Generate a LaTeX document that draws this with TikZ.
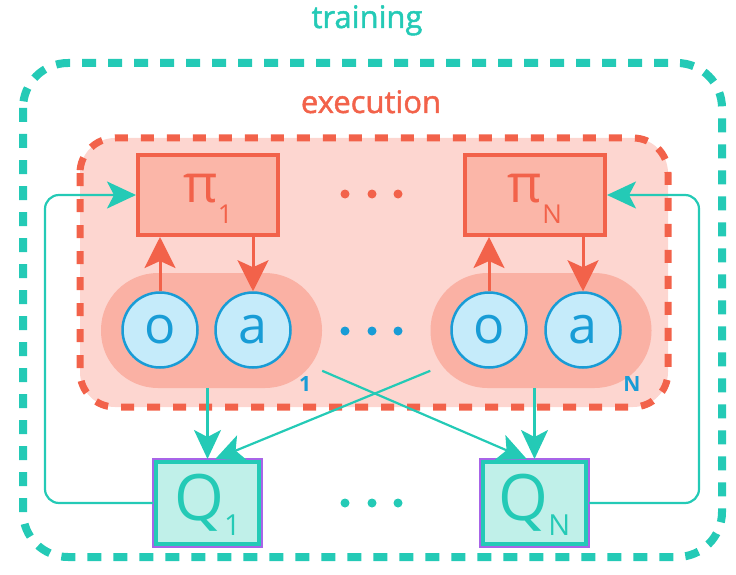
\documentclass[tikz,border=0pt]{standalone}
\usepackage{fontspec}
\setmainfont{Open Sans}
\newfontfamily\headfont[FakeBold=1.5]{Open Sans}
\usetikzlibrary{arrows.meta}

\definecolor{trainteal}{RGB}{36,202,182}
\definecolor{critfill}{RGB}{192,240,233}
\definecolor{critrim}{RGB}{168,100,232}
\definecolor{execred}{RGB}{242,98,74}
\definecolor{execfill}{RGB}{253,214,208}
\definecolor{pifill}{RGB}{251,182,168}
\definecolor{pillfill}{RGB}{250,177,164}
\definecolor{obsfill}{RGB}{197,235,250}
\definecolor{obsblue}{RGB}{24,156,214}

\newcommand{\pilabel}[1]{\smash{\raisebox{-7pt}{π\raisebox{-21pt}{\fontsize{26}{26}\selectfont #1}}}}
\newcommand{\qlabel}[1]{\smash{\raisebox{-17pt}{Q\raisebox{-15pt}{\fontsize{29}{29}\selectfont #1}}}}

\tikzset{
	trainbox/.style={draw=trainteal, line width=8pt, dash pattern=on 14pt off 12pt, rounded corners=45pt},
	execbox/.style={draw=execred, fill=execfill, line width=7pt, dash pattern=on 13pt off 13pt, rounded corners=35pt},
	pibox/.style={draw=execred, fill=pifill, line width=4pt, minimum width=140pt, minimum height=80pt, inner sep=0pt, text=execred, font=\fontsize{53}{53}\selectfont},
	pill/.style={fill=pillfill, minimum width=221pt, minimum height=115pt, rounded corners=57pt, inner sep=0pt},
	obs/.style={circle, draw=obsblue, fill=obsfill, line width=2.5pt, minimum size=75pt, inner sep=0pt, text=obsblue, font=\fontsize{52}{52}\selectfont},
	critic/.style={draw=trainteal, fill=critfill, line width=5pt, minimum width=104pt, minimum height=83pt, inner sep=0pt, text=trainteal, font=\fontsize{64}{64}\selectfont},
	criticrim/.style={draw=critrim, line width=1.5pt},
	headtext/.style={anchor=base, font=\headfont\fontsize{31}{31}\selectfont},
	agentlabel/.style={text=obsblue, font=\bfseries\fontsize{21}{21}\selectfont, inner sep=0pt},
	polarrow/.style={draw=execred, line width=3pt, -{Stealth[length=31pt, width=31pt, inset=7pt]}},
	critarrow/.style={draw=trainteal, line width=2.2pt, -{Stealth[length=29pt, width=27pt, inset=7pt]}},
}

\begin{document}
\begin{tikzpicture}[x=1pt, y=-1pt]
		%%%%% START %%%%%
		\useasboundingbox (0,0) rectangle (736,575);
		
		\draw[trainbox] (23,63) rectangle (722,557);
		\node[headtext, text=trainteal] (training) at (367,28) {training};
		
		\draw[execbox] (80,138) rectangle (668,407);
		\node[headtext, text=execred] (execution) at (371,113) {execution};
		
		\node[pibox] (pi1) at (208,195) {\pilabel{1}};
		\node[pibox] (piN) at (535,195) {\pilabel{N}};
		
		\node[pill] (pill1) at (211.5,330.5) {};
		\node[pill] (pillN) at (541,330.5) {};
		\node[obs] (o1) at (160,330) {o};
		\node[obs] (a1) at (253,330) {a};
		\node[obs] (oN) at (489,330) {o};
		\node[obs] (aN) at (583,330) {a};
		\node[agentlabel] (lab1) at (305,384) {1};
		\node[agentlabel] (labN) at (632,384) {N};
		
		\node[critic] (q1) at (207.5,503) {\qlabel{1}};
		\node[critic] (qN) at (534.5,503) {\qlabel{N}};
		\foreach \q in {q1,qN}
			\draw[criticrim] (\q.north west) rectangle (\q.south east);
		
		\foreach \x in {345,372,398} {
			\fill[execred] (\x,194) circle (4.5);
			\fill[obsblue] (\x,331) circle (4.5);
			\fill[trainteal] (\x,503) circle (4.5);
		}
		
		\draw[polarrow] (o1.north) -- (o1.north |- pi1.south);
		\draw[polarrow] (a1.north |- pi1.south) -- (a1.north);
		\draw[polarrow] (oN.north) -- (oN.north |- piN.south);
		\draw[polarrow] (aN.north |- piN.south) -- (aN.north);
		
		\draw[critarrow] (q1.north |- pill1.south) -- (q1.north);
		\draw[critarrow] (qN.north |- pillN.south) -- (qN.north);
		\draw[critarrow] (pill1.-20) -- (qN.100);
		\draw[critarrow] (pillN.200) -- (q1.80);
		
		\draw[critarrow, rounded corners=14pt] (q1.west) -- ++(-108,0) |- (pi1.west);
		\draw[critarrow, rounded corners=14pt] (qN.east) -- ++(110,0) |- (piN.east);
		
		%%%%% END %%%%%
	\end{tikzpicture}
\end{document}
